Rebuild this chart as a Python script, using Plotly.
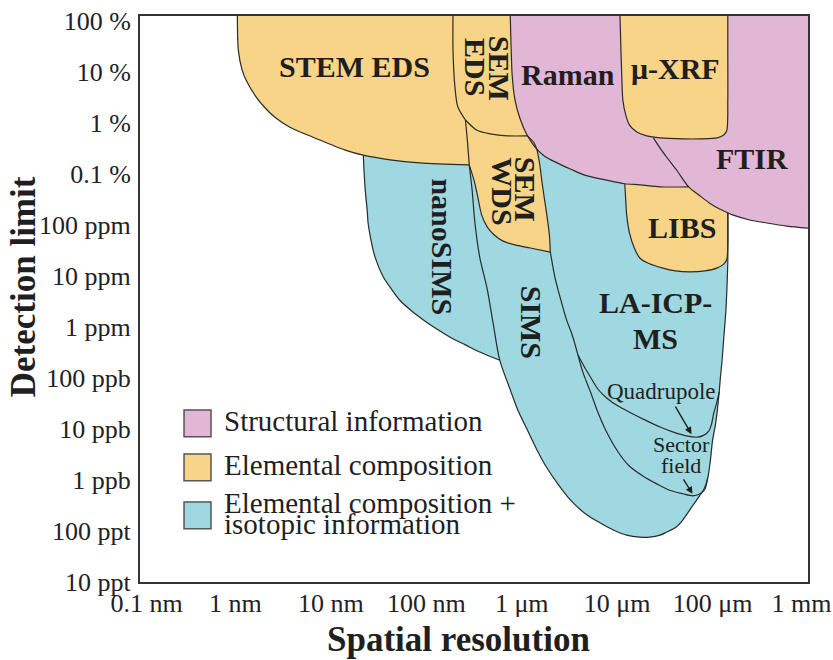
import plotly.graph_objects as go

# ---------------------------------------------------------------- axes
# spatial resolution in metres, detection limit as mass fraction (log10 exponents)
x_range = [-10.0005, -2.9995]
y_range = [-11, 0.1]
x_tick_exp = [-10, -9, -8, -7, -6, -5, -4, -3]
x_tick_text = ["\u00a0\u00a00.1 nm", "1 nm", "10 nm", "100 nm", "1 μm", "10 μm", "100 μm", "1 mm\u00a0\u00a0"]
y_tick_exp = [0, -1, -2, -3, -4, -5, -6, -7, -8, -9, -10, -11]
y_tick_text = ["100 %", "10 %", "1 %", "0.1 %", "100 ppm", "10 ppm", "1 ppm",
               "100 ppb", "10 ppb", "1 ppb", "100 ppt", "10 ppt"]

# ------------------------------------------------- region boundaries
# every curve is a list of (log10 resolution, log10 detection limit) points
stem_eds_x = [-8.98, -8.97, -8.93, -8.88, -8.79, -8.71, -8.59, -8.43, -8.25, -8.04, -7.85, -7.66, -7.38, -7.07, -6.55]
stem_eds_y = [0.10, -0.57, -0.96, -1.19, -1.47, -1.66, -1.88, -2.08, -2.23, -2.39, -2.53, -2.63, -2.72, -2.78, -2.82]

sem_eds_left_x = [-6.72, -6.72, -6.70, -6.67, -6.59]
sem_eds_left_y = [0.10, -0.57, -1.29, -1.68, -1.94]
sem_eds_base_x = [-6.59, -6.47, -6.33, -6.15, -5.94]
sem_eds_base_y = [-1.94, -2.14, -2.21, -2.25, -2.25]
stem_sem_x = [-6.59, -6.57, -6.55]
stem_sem_y = [-1.94, -2.33, -2.82]

raman_x = [-6.12, -6.11, -6.10, -6.07, -6.02, -5.94, -5.86, -5.76, -5.63, -5.49, -5.34, -5.11, -4.92, -4.76, -4.55, -4.25]
raman_y = [0.10, -0.57, -1.06, -1.55, -1.90, -2.25, -2.47, -2.65, -2.78, -2.90, -3.02, -3.12, -3.19, -3.21, -3.25, -3.25]

wds_right_x = [-5.94, -5.87, -5.84, -5.81, -5.79, -5.76, -5.74, -5.71, -5.70]
wds_right_y = [-2.25, -2.39, -2.53, -2.82, -3.12, -3.51, -3.76, -4.19, -4.53]
wds_base_x = [-6.55, -6.50, -6.46, -6.42, -6.36, -6.29, -6.20, -6.07, -5.91, -5.70]
wds_base_y = [-2.82, -3.12, -3.45, -3.80, -4.04, -4.19, -4.31, -4.39, -4.45, -4.53]

icp_left_x = [-5.70, -5.65, -5.59, -5.53, -5.47, -5.41]
icp_left_y = [-4.53, -5.04, -5.47, -5.86, -6.16, -6.55]
sector_x = [-5.41, -5.36, -5.28, -5.21, -5.11, -4.99, -4.87, -4.73, -4.58, -4.45, -4.31, -4.21, -4.13, -4.08, -4.05]
sector_y = [-6.55, -6.88, -7.27, -7.63, -8.06, -8.45, -8.73, -8.92, -9.08, -9.20, -9.27, -9.31, -9.27, -9.18, -8.96]
quad_x = [-5.41, -5.35, -5.28, -5.20, -5.11, -4.99, -4.87, -4.71, -4.55, -4.41, -4.26, -4.16, -4.09, -4.04, -4.01, -3.99, -3.96, -3.93]
quad_y = [-6.55, -6.76, -6.98, -7.22, -7.39, -7.55, -7.67, -7.82, -7.96, -8.06, -8.14, -8.16, -8.12, -8.04, -7.90, -7.71, -7.51, -7.27]
icp_right_x = [-3.84, -3.84, -3.84, -3.85, -3.86, -3.88, -3.90, -3.92, -3.93, -3.95, -3.97, -4.00, -4.02, -4.05, -4.09, -4.13]
icp_right_y = [-3.76, -4.29, -4.72, -5.27, -5.67, -6.16, -6.65, -7.04, -7.27, -7.63, -7.92, -8.22, -8.57, -8.96, -9.18, -9.29]

sims_x = [-6.55, -6.52, -6.49, -6.44, -6.36, -6.30, -6.23, -6.12, -6.04, -5.94, -5.84, -5.74, -5.62, -5.49,
          -5.34, -5.18, -5.04, -4.90, -4.76, -4.66, -4.55, -4.48, -4.38, -4.31, -4.24, -4.18, -4.13]
sims_y = [-2.82, -3.31, -3.96, -4.63, -5.27, -5.92, -6.65, -7.23, -7.63, -8.02, -8.41, -8.75, -9.08, -9.39,
          -9.65, -9.84, -9.98, -10.08, -10.12, -10.12, -10.08, -10.02, -9.92, -9.78, -9.59, -9.43, -9.29]
nanosims_x = [-7.66, -7.65, -7.64, -7.62, -7.61, -7.58, -7.54, -7.45, -7.36, -7.28, -7.15, -7.03, -6.89, -6.75, -6.59, -6.44, -6.23]
nanosims_y = [-2.63, -3.02, -3.31, -3.70, -3.96, -4.29, -4.61, -5.02, -5.27, -5.47, -5.69, -5.86, -6.04, -6.20, -6.35, -6.49, -6.65]

libs_x = [-4.92, -4.91, -4.90, -4.87, -4.82, -4.76, -4.66, -4.53, -4.39, -4.24, -4.08, -3.95, -3.88, -3.85, -3.84, -3.84]
libs_y = [-3.19, -3.51, -3.80, -4.16, -4.45, -4.65, -4.76, -4.84, -4.90, -4.92, -4.90, -4.84, -4.76, -4.67, -4.39, -3.76]
ftir_x = [-4.62, -4.55, -4.48, -4.37, -4.25, -4.13, -4.03, -3.92, -3.84, -3.79, -3.61, -3.43, -3.22, -3.00]
ftir_y = [-2.29, -2.49, -2.67, -2.94, -3.25, -3.43, -3.57, -3.69, -3.76, -3.80, -3.90, -3.96, -4.02, -4.06]
xrf_x = [-4.97, -4.96, -4.95, -4.94, -4.91, -4.87, -4.79, -4.69, -4.55, -4.31, -4.13, -3.95, -3.88, -3.85, -3.84, -3.84, -3.84]
xrf_y = [0.10, -0.57, -1.16, -1.55, -1.84, -2.04, -2.18, -2.25, -2.29, -2.31, -2.31, -2.29, -2.23, -2.14, -1.55, -0.57, 0.10]

PINK = "#E2B7D6"
ORANGE = "#F7D487"
BLUE = "#9FD8E0"
EDGE = "#2b2b2b"
INK = "#1f1f1f"
SERIF = "Liberation Serif"


def pts(xs, ys):
    return list(zip(xs, ys))


def chain(*parts):
    out = []
    for p in parts:
        out.extend(p)
    return out


stem = pts(stem_eds_x, stem_eds_y)
sem_left = pts(sem_eds_left_x, sem_eds_left_y)
sem_base = pts(sem_eds_base_x, sem_eds_base_y)
stem_sem = pts(stem_sem_x, stem_sem_y)
raman = pts(raman_x, raman_y)
wds_right = pts(wds_right_x, wds_right_y)
wds_base = pts(wds_base_x, wds_base_y)
icp_left = pts(icp_left_x, icp_left_y)
sector = pts(sector_x, sector_y)
quad = pts(quad_x, quad_y)
icp_right = pts(icp_right_x, icp_right_y)
sims = pts(sims_x, sims_y)
nano = pts(nanosims_x, nanosims_y)
libs = pts(libs_x, libs_y)
ftir = pts(ftir_x, ftir_y)
xrf = pts(xrf_x, xrf_y)

regions = [
    # isotopic techniques: nanoSIMS + SIMS + LA-ICP-MS
    (BLUE, chain(nano, sims[7:], icp_right[::-1][1:], libs[::-1][1:], raman[11:4:-1],
                 wds_right[1:], wds_base[::-1][1:], stem[13:10:-1])),
    # structural techniques: Raman + FTIR
    (PINK, chain(raman, ftir[5:], [(x_range[1], y_range[1])])),
    (ORANGE, chain(stem, stem_sem[::-1][1:], sem_left[::-1][1:])),
    (ORANGE, chain(sem_left, sem_base[1:], raman[4::-1])),
    (ORANGE, chain(stem_sem, wds_base[1:], wds_right[::-1][1:], sem_base[::-1][1:])),
    (ORANGE, chain(libs, ftir[7:3:-1], raman[14:12:-1])),
    (ORANGE, xrf),
]

fig = go.Figure()
for color, poly in regions:
    xs = [10 ** p[0] for p in poly] + [10 ** poly[0][0]]
    ys = [10 ** p[1] for p in poly] + [10 ** poly[0][1]]
    fig.add_trace(go.Scatter(x=xs, y=ys, mode="lines", fill="toself", fillcolor=color,
                             line=dict(color=color, width=0.6), hoverinfo="skip", showlegend=False))

outlines = [stem, sem_left, sem_base, stem_sem, raman, wds_right, wds_base, icp_left, sector, quad,
            icp_right, sims, nano, libs, ftir, xrf]
for curve in outlines:
    fig.add_trace(go.Scatter(x=[10 ** p[0] for p in curve], y=[10 ** p[1] for p in curve], mode="lines",
                             line=dict(color=EDGE, width=1.2, shape="spline", smoothing=0.8),
                             hoverinfo="skip", showlegend=False))

annotations = []


def label(text, x, y, size=30, angle=0, bold=True):
    annotations.append(dict(text=f"<b>{text}</b>" if bold else text, x=x, y=y, xref="x", yref="y",
                            xanchor="center", yanchor="middle", showarrow=False, textangle=angle,
                            font=dict(family=SERIF, size=size, color=INK)))


label("STEM EDS", -7.75, -0.90)
label("SEM", -6.23, -0.93, angle=90)
label("EDS", -6.49, -0.90, angle=90)
label("SEM", -5.96, -3.30, angle=90)
label("WDS", -6.21, -3.33, angle=90)
label("Raman", -5.52, -1.04)
label("μ-XRF", -4.39, -0.92)
label("FTIR", -3.59, -2.70)
label("LIBS", -4.32, -4.04)
label("nanoSIMS", -6.84, -4.43, angle=90)
label("SIMS", -5.90, -5.90, angle=90)
label("LA-ICP-", -4.60, -5.51)
label("MS", -4.60, -6.22)
label("Quadrupole", -4.54, -7.27, size=23, bold=False)
label("Sector", -4.33, -8.31, size=22, bold=False)
label("field", -4.33, -8.71, size=22, bold=False)

for tip_x, tip_y, ax, ay in [(-4.22, -8.10, -17, -29), (-4.21, -9.27, -10, -16)]:
    annotations.append(dict(text="", x=tip_x, y=tip_y, xref="x", yref="y", ax=ax, ay=ay,
                            showarrow=True, arrowhead=2, arrowsize=1, arrowwidth=1.4, arrowcolor=INK))

# axis titles
annotations.append(dict(text="<b>Spatial resolution</b>", x=0.4775, y=-0.102, xref="paper", yref="paper",
                        xanchor="center", yanchor="middle", showarrow=False,
                        font=dict(family=SERIF, size=35, color=INK)))
annotations.append(dict(text="<b>Detection limit</b>", x=-0.175, y=0.521, xref="paper", yref="paper",
                        xanchor="center", yanchor="middle", showarrow=False, textangle=-90,
                        font=dict(family=SERIF, size=35, color=INK)))

# key
legend_items = [
    (PINK, 0.3039, ["Structural information"]),
    (ORANGE, 0.2261, ["Elemental composition"]),
    (BLUE, 0.1413, ["Elemental composition +", "isotopic information"]),
]
shapes = []
for color, top, lines in legend_items:
    shapes.append(dict(type="rect", xref="paper", yref="paper", x0=0.0659, x1=0.1063, y0=top - 0.0472, y1=top,
                       fillcolor=color, line=dict(color="#555555", width=1.5)))
    centre = top - 0.0236 + 0.004
    offsets = [0.0] if len(lines) == 1 else [0.0186, -0.0186]
    for text, off in zip(lines, offsets):
        annotations.append(dict(text=text, x=0.1228, y=centre + off, xref="paper", yref="paper",
                                xanchor="left", yanchor="middle", showarrow=False,
                                font=dict(family=SERIF, size=29, color=INK)))

axis_common = dict(type="log", showgrid=False, zeroline=False, showline=True, mirror=True,
                   linecolor="#333333", linewidth=2, ticks="", automargin=False,
                   tickfont=dict(family=SERIF, size=26, color="#222222"))

fig.update_layout(
    width=833, height=660,
    margin=dict(l=140, r=25, t=16, b=78),
    paper_bgcolor="white", plot_bgcolor="white",
    xaxis=dict(range=x_range, tickvals=[10 ** e for e in x_tick_exp], ticktext=x_tick_text,
               ticklabelstandoff=-3, ticklabeloverflow="allow", **axis_common),
    yaxis=dict(range=y_range, tickvals=[10 ** e for e in y_tick_exp], ticktext=y_tick_text,
               ticklabelstandoff=2, **axis_common),
    annotations=annotations,
    shapes=shapes,
    showlegend=False,
)

fig.write_html("out.html")
